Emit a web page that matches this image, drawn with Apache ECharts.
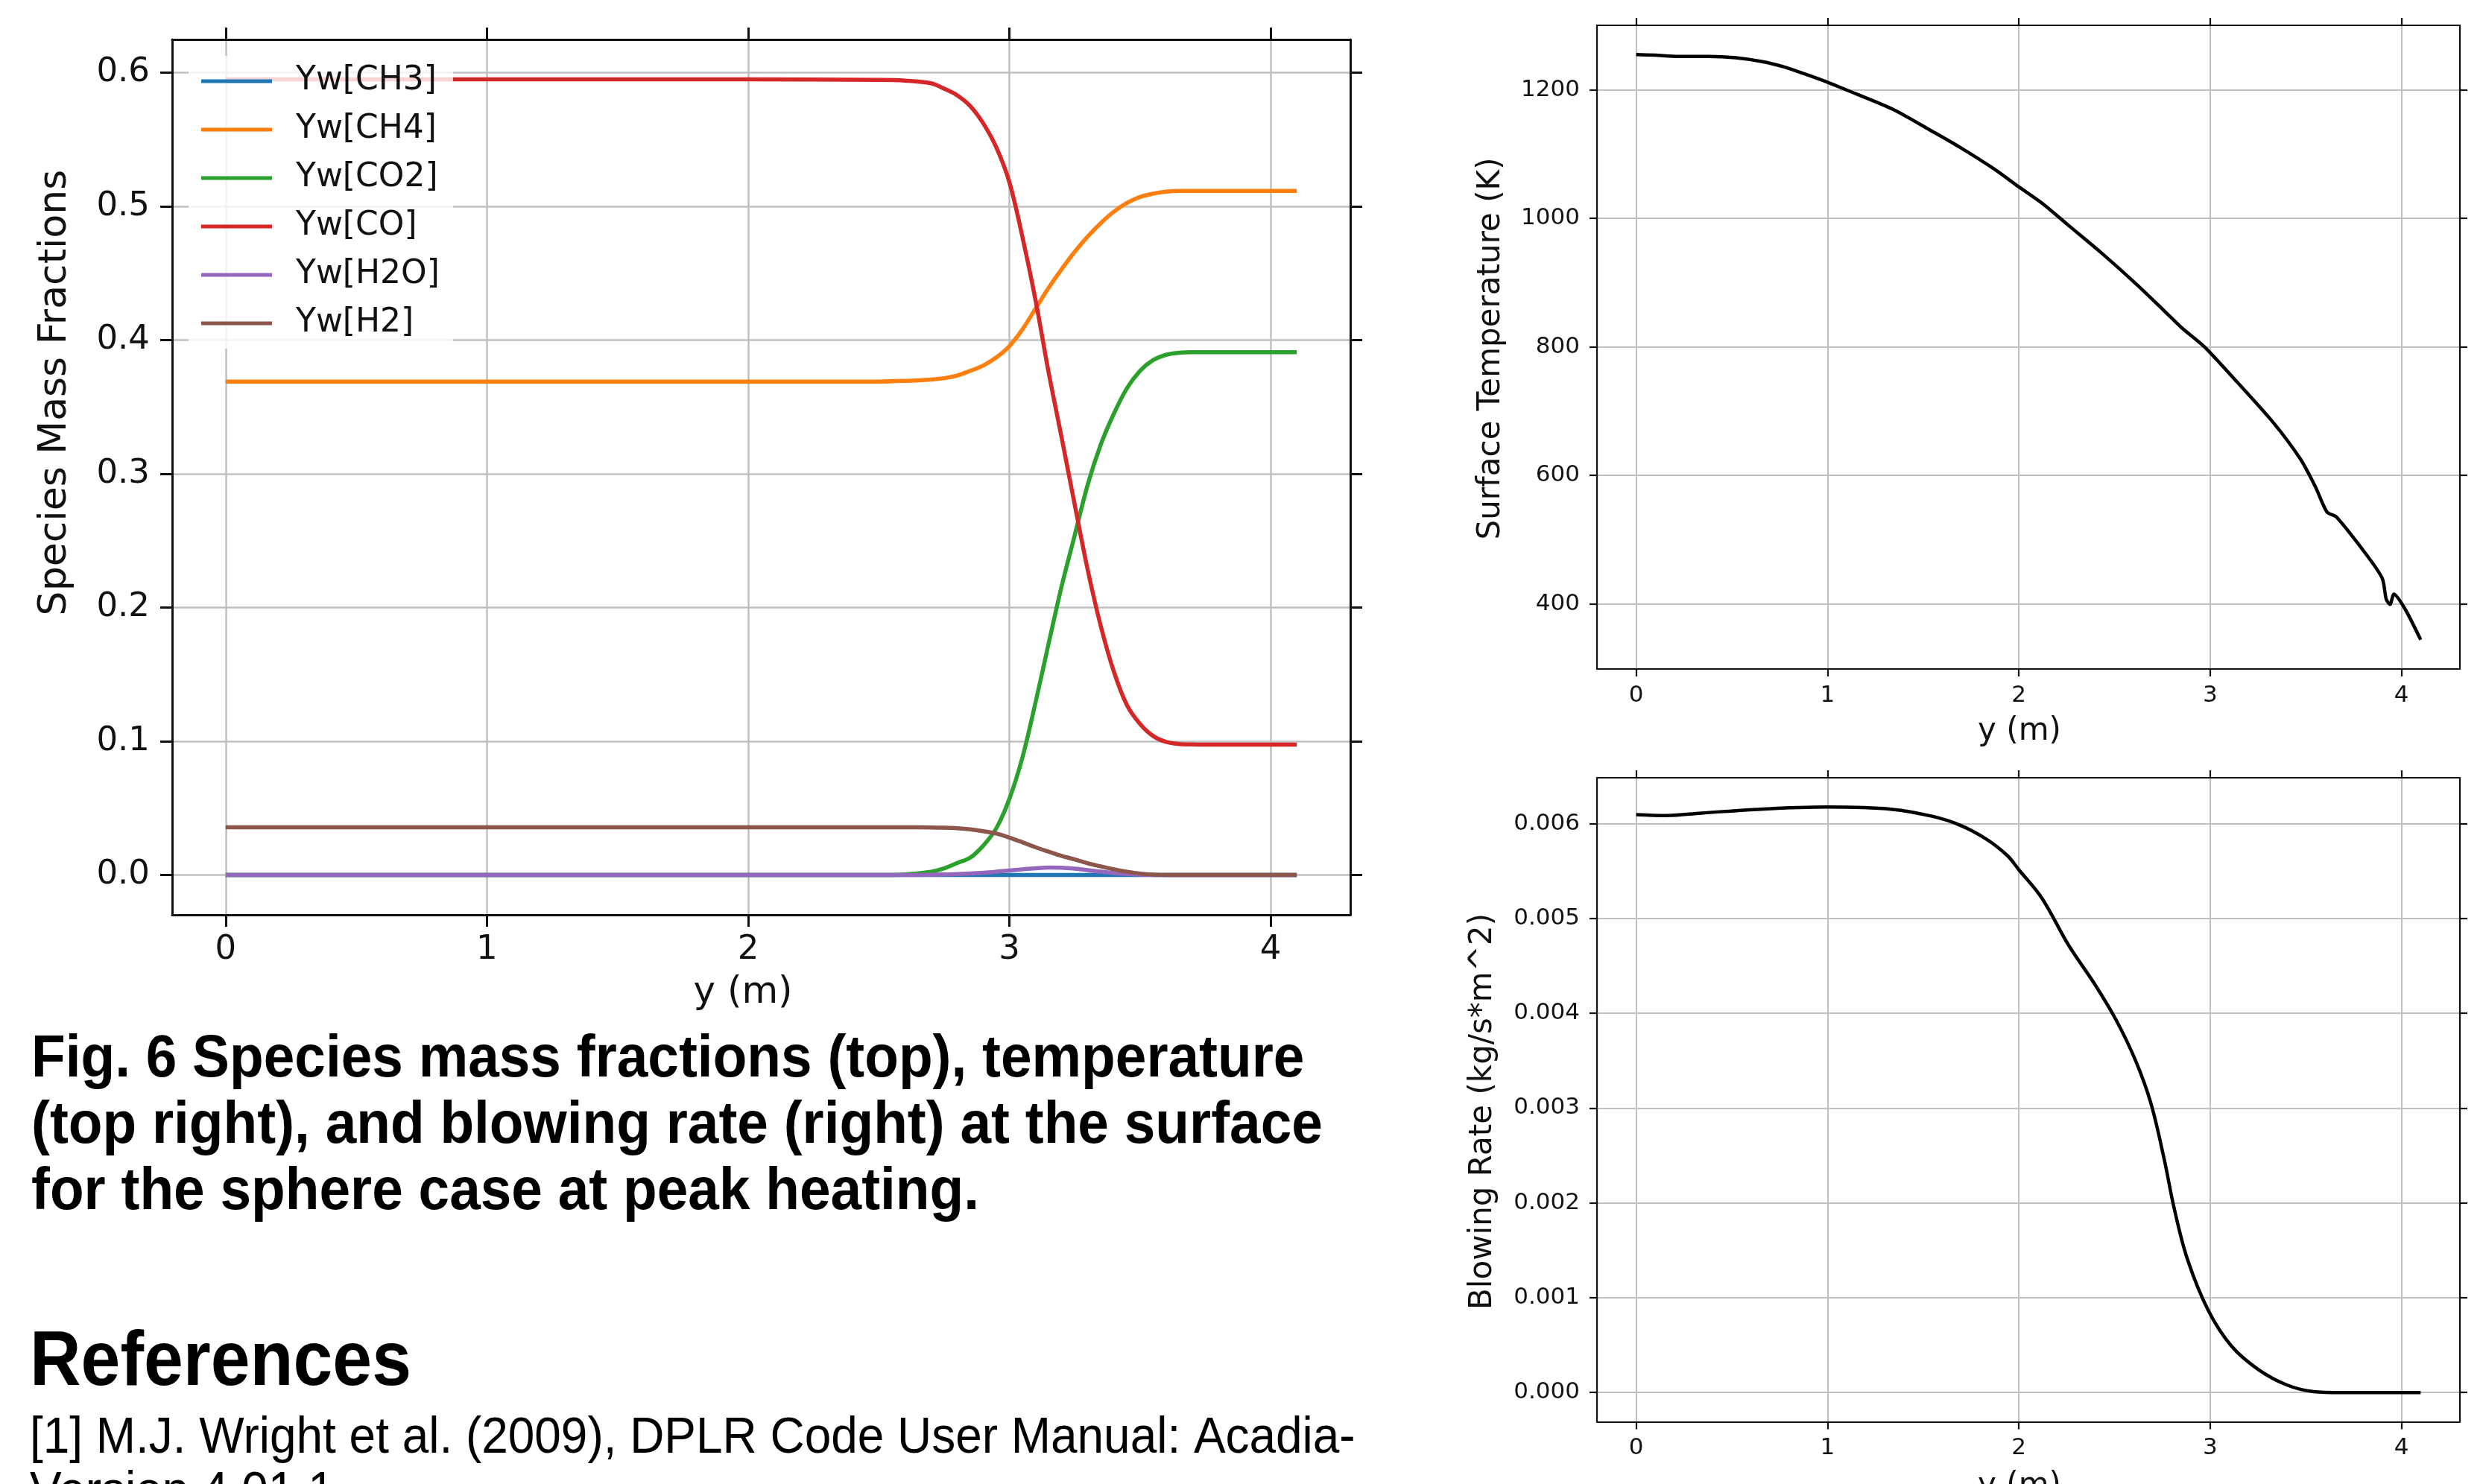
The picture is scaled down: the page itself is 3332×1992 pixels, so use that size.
<!DOCTYPE html>
<html><head><meta charset="utf-8">
<script src="https://cdn.jsdelivr.net/npm/echarts@6/dist/echarts.min.js"></script>
<style>html,body{margin:0;padding:0;background:#fff;} #c{width:3332px;height:1992px;}</style>
</head><body><div id="c"></div>
<script>
// ---------- data ----------
const speciesNames = ['Yw[CH3]', 'Yw[CH4]', 'Yw[CO2]', 'Yw[CO]', 'Yw[H2O]', 'Yw[H2]'];
const speciesX = [0, 0.5, 1, 1.5, 2, 2.5, 2.6, 2.7, 2.75, 2.8, 2.85, 2.9, 2.95, 3.0, 3.05, 3.1, 3.15, 3.2, 3.25, 3.3, 3.35, 3.4, 3.45, 3.5, 3.55, 3.6, 3.65, 3.7, 3.8, 3.9, 4.0, 4.1];
const yCH3 = [0,0,0,0,0,0, 0,0,0,0,0,0,0,0,0,0,0,0,0,0,0,0,0,0,0,0,0,0,0,0,0,0];
const yCH4 = [0.369,0.369,0.369,0.369,0.369,0.369, 0.3695,0.3705,0.3715,0.3735,0.377,0.381,0.387,0.3955,0.408,0.4235,0.439,0.453,0.466,0.4775,0.4875,0.496,0.5025,0.507,0.5095,0.511,0.5115,0.5115,0.5115,0.5115,0.5115,0.5115];
const yCO2 = [0,0,0,0,0,0, 0.0005,0.0025,0.005,0.009,0.013,0.022,0.035,0.057,0.088,0.129,0.173,0.216,0.254,0.292,0.322,0.345,0.364,0.377,0.385,0.389,0.3905,0.391,0.391,0.391,0.391,0.391];
const yCO  = [0.595,0.595,0.595,0.595,0.595,0.5945, 0.594,0.592,0.588,0.583,0.575,0.562,0.544,0.518,0.477,0.430,0.376,0.327,0.277,0.228,0.186,0.152,0.127,0.113,0.104,0.0995,0.098,0.0977,0.0975,0.0975,0.0975,0.0975];
const yH2O = [0,0,0,0,0,0, 0,0.0002,0.0004,0.0007,0.0011,0.0017,0.0025,0.0034,0.0043,0.0051,0.0056,0.0055,0.0048,0.0037,0.0025,0.0015,0.0008,0.0003,0.0001,0,0,0,0,0,0,0];
const yH2  = [0.0357,0.0357,0.0357,0.0357,0.0357,0.0357, 0.0357,0.0356,0.0354,0.035,0.0342,0.0328,0.031,0.028,0.0245,0.0208,0.0175,0.0143,0.0117,0.0088,0.0065,0.0043,0.0025,0.0011,0.0004,0.0001,0,0,0,0,0,0];

const tempX = [0, 0.1, 0.22, 0.38, 0.52, 0.66, 0.77, 0.88, 1.0, 1.09, 1.34, 1.55, 1.69, 1.87, 2.0, 2.12, 2.26, 2.44, 2.62, 2.76, 2.85, 2.97, 3.12, 3.33, 3.47, 3.55, 3.61, 3.66, 3.83, 3.9, 3.92, 3.94, 3.96, 4.02, 4.1];
const tempY = [1255, 1254, 1252, 1252, 1250, 1244, 1236, 1225, 1212, 1201, 1170, 1135, 1111, 1077, 1049, 1024, 989, 944, 896, 856, 830, 800, 752, 682, 626, 582, 543, 535, 471, 439, 407, 399, 415, 391, 344];

const blowX = [0, 0.16, 0.34, 0.63, 1.0, 1.34, 1.55, 1.69, 1.83, 1.94, 2.0, 2.12, 2.26, 2.40, 2.51, 2.61, 2.69, 2.76, 2.81, 2.88, 2.99, 3.11, 3.25, 3.40, 3.54, 3.68, 4.1];
const blowY = [0.006095, 0.006085, 0.00611, 0.00615, 0.006174, 0.00615, 0.006075, 0.005985, 0.005836, 0.005662, 0.005513, 0.005215, 0.004717, 0.004295, 0.003922, 0.0035, 0.00305, 0.002456, 0.001958, 0.001412, 0.000865, 0.000492, 0.000244, 0.00008, 0.00001, 0, 0];

const xTicks = [0, 1, 2, 3, 4];
const speciesTicks = [0, 0.1, 0.2, 0.3, 0.4, 0.5, 0.6];
const tempTicks = [400, 600, 800, 1000, 1200];
const blowTicks = [0, 0.001, 0.002, 0.003, 0.004, 0.005, 0.006];

// ---------- styling ----------
const FONT = 'DejaVu Sans';
const INK = '#111';
const GRID = '#c0c0c0';
const colors = ['#1f77b4', '#ff7f0e', '#2ca02c', '#d62728', '#9467bd', '#8c564b'];

function axesFor(gi, xr, yr, yt, st) {
  const common = (dim, pos, ticks, range, main) => ({
    type: 'value', gridIndex: gi, position: pos, min: range[0], max: range[1],
    axisLine: { show: true, onZero: false, lineStyle: { color: INK, width: st.lw } },
    axisTick: { show: true, inside: false, length: st.tick, lineStyle: { color: INK, width: st.lw }, customValues: ticks },
    axisLabel: main ? {
      show: true, customValues: ticks, fontSize: st.fs, fontFamily: FONT, color: INK,
      margin: dim === 'x' ? st.xm : st.ym,
      formatter: dim === 'x' ? (v => String(v)) : (v => v.toFixed(st.dec))
    } : { show: false },
    splitLine: main ? { show: true, lineStyle: { color: GRID, width: st.gw } } : { show: false }
  });
  return {
    x: [common('x', 'bottom', xTicks, xr, true), common('x', 'top', xTicks, xr, false)],
    y: [common('y', 'left', yt, yr, true), common('y', 'right', yt, yr, false)]
  };
}

const a1 = axesFor(0, [-0.205, 4.305], [-0.02975, 0.62475], speciesTicks, { lw: 3, tick: 16, fs: 45, xm: 25, ym: 30, gw: 2.5, dec: 1 });
const a2 = axesFor(1, [-0.205, 4.305], [298.5, 1300.5], tempTicks, { lw: 2.2, tick: 10, fs: 31, xm: 20, ym: 23, gw: 2, dec: 0 });
const a3 = axesFor(2, [-0.205, 4.305], [-0.000309, 0.006483], blowTicks, { lw: 2.2, tick: 10, fs: 31, xm: 20, ym: 23, gw: 2, dec: 3 });

const speciesY = [yCH3, yCH4, yCO2, yCO, yH2O, yH2];
const series = speciesNames.map((n, k) => ({
  name: n, type: 'line', xAxisIndex: 0, yAxisIndex: 0,
  data: speciesX.map((x, i) => [x, speciesY[k][i]]),
  showSymbol: false, symbol: 'none', smooth: 0.35,
  lineStyle: { width: 5.5, color: colors[k], cap: 'butt', join: 'round' }, itemStyle: { color: colors[k] }
}));
series.push({
  type: 'line', xAxisIndex: 2, yAxisIndex: 2,
  data: tempX.map((x, i) => [x, tempY[i]]),
  showSymbol: false, symbol: 'none', smooth: 0.25,
  lineStyle: { width: 4.5, color: '#000', join: 'round' }
});
series.push({
  type: 'line', xAxisIndex: 4, yAxisIndex: 4,
  data: blowX.map((x, i) => [x, blowY[i]]),
  showSymbol: false, symbol: 'none', smooth: 0.35,
  lineStyle: { width: 4.5, color: '#000', join: 'round' }
});

function label(text, x, y, size, rot) {
  return { type: 'text', x: x, y: y, rotation: rot ? Math.PI / 2 : 0,
    style: { text: text, fontSize: size, fontFamily: FONT, fill: INK, align: 'center', verticalAlign: 'middle' } };
}

const option = {
  animation: false,
  backgroundColor: '#fff',
  grid: [
    { left: 231, top: 53, width: 1581, height: 1175, outerBoundsMode: 'none' },
    { left: 2143, top: 34, width: 1158, height: 864, outerBoundsMode: 'none' },
    { left: 2143, top: 1044, width: 1158, height: 864.5, outerBoundsMode: 'none' }
  ],
  xAxis: [...a1.x, ...a2.x, ...a3.x],
  yAxis: [...a1.y, ...a2.y, ...a3.y],
  legend: {
    data: speciesNames, orient: 'vertical', left: 253, top: 75,
    icon: 'rect', itemWidth: 95, itemHeight: 5, itemGap: 21,
    padding: [12, 18, 12, 17], backgroundColor: 'rgba(255,255,255,0.8)',
    selectedMode: false,
    textStyle: { fontSize: 44, fontFamily: FONT, color: INK, lineHeight: 44, padding: [0, 0, 0, 27] }
  },
  series: series,
  graphic: [
    label('Species Mass Fractions', 74, 527, 52, true),
    label('y (m)', 997, 1333, 50, false),
    label('Surface Temperature (K)', 2001, 468, 42, true),
    label('y (m)', 2710, 982, 42, false),
    label('Blowing Rate (kg/s*m^2)', 1990, 1492, 42, true),
    label('y (m)', 2710, 1995, 42, false),
    { type: 'text', x: 42, y: 1378, scaleX: 0.935,
      style: { text: 'Fig. 6 Species mass fractions (top), temperature\n(top right), and blowing rate (right) at the surface\nfor the sphere case at peak heating.',
        fontSize: 80, fontWeight: 'bold', fontFamily: 'Liberation Sans', lineHeight: 89, fill: '#000', align: 'left', verticalAlign: 'top' } },
    { type: 'text', x: 40, y: 1830, scaleX: 0.913,
      style: { text: 'References', fontSize: 104, fontWeight: 'bold', fontFamily: 'Liberation Sans', fill: '#000', align: 'left', verticalAlign: 'middle' } },
    { type: 'text', x: 40, y: 1931, scaleX: 0.94,
      style: { text: '[1] M.J. Wright et al. (2009), DPLR Code User Manual: Acadia-', fontSize: 68, fontFamily: 'Liberation Sans', fill: '#000', align: 'left', verticalAlign: 'middle' } },
    { type: 'text', x: 40, y: 2004, scaleX: 0.94,
      style: { text: 'Version 4.01.1', fontSize: 68, fontFamily: 'Liberation Sans', fill: '#000', align: 'left', verticalAlign: 'middle' } }
  ]
};

const chart = echarts.init(document.getElementById('c'), null, { renderer: 'canvas', width: 3332, height: 1992 });
chart.setOption(option);
</script></body></html>
